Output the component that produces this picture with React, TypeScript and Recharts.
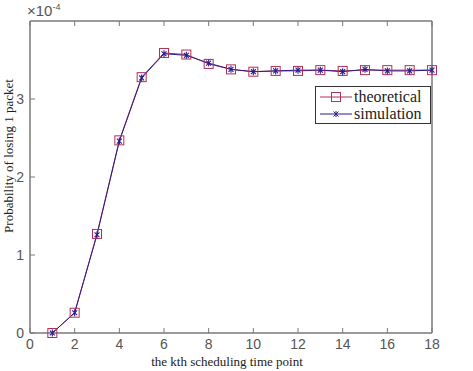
import { ComposedChart, Line, XAxis, YAxis } from 'recharts';

// time points k = 1..18, probability values in units of 1e-4
const timePoints = [1, 2, 3, 4, 5, 6, 7, 8, 9, 10, 11, 12, 13, 14, 15, 16, 17, 18];
const theoretical = [0, 0.26, 1.27, 2.47, 3.28, 3.59, 3.57, 3.45, 3.38, 3.35, 3.36, 3.36, 3.37, 3.36, 3.37, 3.37, 3.37, 3.37];
const simulation = [0, 0.26, 1.26, 2.46, 3.27, 3.58, 3.56, 3.46, 3.38, 3.35, 3.36, 3.37, 3.37, 3.35, 3.38, 3.36, 3.36, 3.37];
const xTicks = [0, 2, 4, 6, 8, 10, 12, 14, 16, 18];
const yTicks = [0, 1, 2, 3];

const data = timePoints.map((k, i) => ({ k, theoretical: theoretical[i], simulation: simulation[i] }));

const AXIS = '#7a7a7a';
const RED = '#b03058';
const BLUE = '#2a1a8a';
const sans = '"Liberation Sans", Arial, sans-serif';
const serif = '"Liberation Serif", "Times New Roman", serif';

const SquareDot = (props: any) => {
  const { cx, cy } = props;
  if (cx == null || cy == null) return null;
  return <rect x={cx - 4.5} y={cy - 4.5} width={9} height={9} fill="none" stroke={RED} strokeWidth={1} />;
};

const StarDot = (props: any) => {
  const { cx, cy } = props;
  if (cx == null || cy == null) return null;
  const r = 3.5;
  const d = r * 0.7;
  return (
    <g stroke={BLUE} strokeWidth={1.1}>
      <line x1={cx} y1={cy - r} x2={cx} y2={cy + r} />
      <line x1={cx - d} y1={cy - d} x2={cx + d} y2={cy + d} />
      <line x1={cx - d} y1={cy + d} x2={cx + d} y2={cy - d} />
    </g>
  );
};

const LegendBox = () => (
  <div style={{ position: 'absolute', left: 315, top: 86, boxSizing: 'border-box', border: '1px solid #333', background: '#fff', width: 116, height: 38, padding: '1px 0', fontFamily: serif, fontSize: 16, color: '#222', lineHeight: '16px' }}>
    <div style={{ display: 'flex', alignItems: 'center', height: 17 }}>
      <svg width={38} height={14} style={{ flex: 'none' }}>
        <line x1={4} y1={7} x2={36} y2={7} stroke={RED} strokeWidth={1} />
        <rect x={15.5} y={2.5} width={9} height={9} fill="none" stroke={RED} />
      </svg>
      <span>theoretical</span>
    </div>
    <div style={{ display: 'flex', alignItems: 'center', height: 17 }}>
      <svg width={38} height={14} style={{ flex: 'none' }}>
        <line x1={4} y1={7} x2={36} y2={7} stroke={BLUE} strokeWidth={1} />
        <g stroke={BLUE} strokeWidth={1}>
          <line x1={20} y1={4} x2={20} y2={10} />
          <line x1={17.5} y1={4.5} x2={22.5} y2={9.5} />
          <line x1={17.5} y1={9.5} x2={22.5} y2={4.5} />
        </g>
      </svg>
      <span>simulation</span>
    </div>
  </div>
);

export default function App() {
  const tickStyle = { fill: '#555', fontSize: 14, fontFamily: sans };
  return (
    <div style={{ position: 'absolute', left: 0, top: 0, width: 473, height: 371, background: '#fff' }}>
      <ComposedChart width={473} height={371} data={data} margin={{ top: 20, right: 40, bottom: 18, left: 10 }}>
        <XAxis xAxisId="b" dataKey="k" type="number" domain={[0, 18]} ticks={xTicks} height={20}
          axisLine={{ stroke: AXIS, strokeWidth: 1.5 }} tickLine={{ stroke: AXIS }} tickSize={-5} tickMargin={11}
          tick={tickStyle} interval={0} />
        <XAxis xAxisId="t" orientation="top" dataKey="k" type="number" domain={[0, 18]} ticks={xTicks} height={1}
          axisLine={{ stroke: AXIS, strokeWidth: 1.5 }} tickLine={{ stroke: AXIS }} tickSize={-5}
          tickFormatter={() => ''} interval={0} />
        <YAxis yAxisId="l" type="number" domain={[0, 4]} ticks={yTicks} width={20}
          axisLine={{ stroke: AXIS, strokeWidth: 1.5 }} tickLine={{ stroke: AXIS }} tickSize={-5} tickMargin={11}
          tick={tickStyle} interval={0} />
        <YAxis yAxisId="r" orientation="right" type="number" domain={[0, 4]} ticks={yTicks} width={1}
          axisLine={{ stroke: AXIS, strokeWidth: 1.5 }} tickLine={{ stroke: AXIS }} tickSize={-5}
          tickFormatter={() => ''} interval={0} />
        <Line xAxisId="b" yAxisId="l" dataKey="theoretical" type="linear" stroke={RED} strokeWidth={1}
          dot={<SquareDot />} activeDot={false} isAnimationActive={false} />
        <Line xAxisId="b" yAxisId="l" dataKey="simulation" type="linear" stroke={BLUE} strokeWidth={1}
          dot={<StarDot />} activeDot={false} isAnimationActive={false} />
      </ComposedChart>
      <LegendBox />
      <div style={{ position: 'absolute', left: 27, top: 3, lineHeight: '16px', fontFamily: sans, fontSize: 15, color: '#555', whiteSpace: 'nowrap' }}>
        ×10<span style={{ fontSize: 9, position: 'relative', top: -6 }}>-4</span>
      </div>
      <div style={{ position: 'absolute', left: 0, top: 354, width: 454, textAlign: 'center', fontFamily: serif, fontSize: 13, color: '#222' }}>
        the kth scheduling time point
      </div>
      <div style={{ position: 'absolute', left: 9, top: 156, width: 0, height: 0 }}>
        <div style={{ position: 'absolute', transform: 'translate(-50%, -50%) rotate(-90deg)', whiteSpace: 'nowrap', fontFamily: serif, fontSize: 13, color: '#222' }}>
          Probability of losing 1 packet
        </div>
      </div>
    </div>
  );
}
